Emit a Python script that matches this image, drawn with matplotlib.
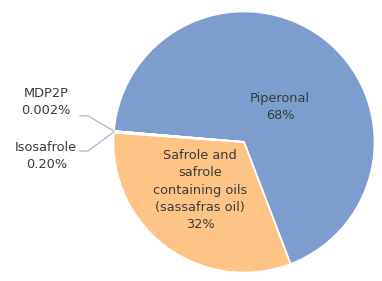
import numpy as np
import matplotlib.pyplot as plt

labels = ['Piperonal', 'Safrole and\nsafrole\ncontaining oils\n(sassafras oil)', 'Isosafrole', 'MDP2P']
values = [68, 32, 0.2, 0.002]
pct_text = ['68%', '32%', '0.20%', '0.002%']
colors = ['#7d9dce', '#fdc485', '#a5a5a5', '#ffc000']

fig = plt.figure(figsize=(3.82, 2.81), dpi=100)
ax = fig.add_axes([0, 0, 1, 1])

wedges, _ = ax.pie(values, colors=colors, startangle=175.2, counterclock=False,
                   wedgeprops=dict(edgecolor='white', linewidth=1.2))

# pixel mapping: center (244,142) in image, radius 130.5 px
r = 130.5
ax.set_xlim(-244 / r, (382 - 244) / r)
ax.set_ylim(-(281 - 142) / r, 142 / r)
ax.set_aspect('auto')
ax.axis('off')

txt = '#3a3a3a'
fs = 9.3
ls = 1.42
ax.text(0.276, 0.268, labels[0] + '\n' + pct_text[0], ha='center', va='center',
        fontsize=fs, color=txt, linespacing=ls)
ax.text(-0.337, -0.368, labels[1] + '\n' + pct_text[1], ha='center', va='center',
        fontsize=fs, color=txt, linespacing=ls)

# small slices: leader lines from wedge edge
line_c = '#a9b7cc'
for i, (ty, ly) in zip([2, 3], [(-0.107, -0.069), (0.307, 0.200)]):
    w = wedges[i]
    ang = np.deg2rad((w.theta1 + w.theta2) / 2)
    px, py = np.cos(ang), np.sin(ang)
    ax.plot([-1.257, -1.195, px], [ly, ly, py], color=line_c, lw=0.9)
    ax.text(-1.515, ty, labels[i] + '\n' + pct_text[i], ha='center', va='center',
            fontsize=fs, color=txt, linespacing=ls)

fig.savefig('out.png', dpi=100)
